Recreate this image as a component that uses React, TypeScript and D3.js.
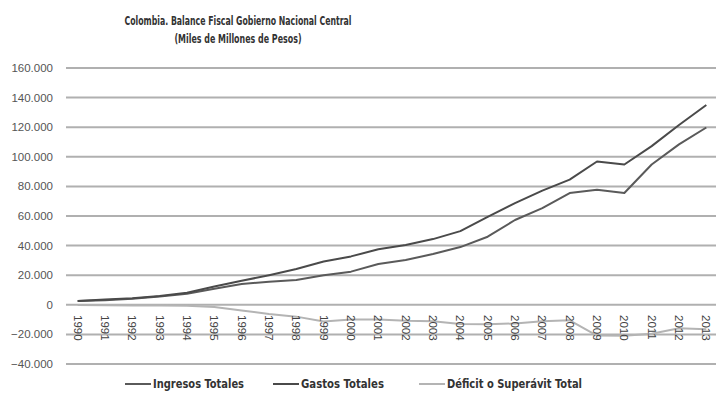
import React from "react";
import * as d3 from "d3";

const years = [
  "1990", "1991", "1992", "1993", "1994", "1995", "1996", "1997", "1998", "1999", "2000", "2001",
  "2002", "2003", "2004", "2005", "2006", "2007", "2008", "2009", "2010", "2011", "2012", "2013",
];

const ingresos = [
  2500, 3100, 4100, 5600, 7500, 10800, 14000, 15600, 16800, 20000, 22400, 27600,
  30300, 34300, 39000, 46000, 57300, 65300, 75500, 77700, 75500, 94800, 108400, 119800,
];

const gastos = [
  2600, 3500, 4500, 6000, 8200, 12300, 16200, 20000, 24200, 29200, 32700, 37500,
  40400, 44400, 49800, 59400, 68700, 77100, 84600, 96800, 94800, 107200, 121500, 135000,
];

const deficit = [
  -100, -300, -400, -400, -600, -1500, -3800, -6200, -8000, -11300, -10000, -9900,
  -10800, -11100, -13000, -13200, -12600, -11100, -10500, -20800, -20900, -19500, -15800, -16600,
];

const yTicks = [160000, 140000, 120000, 100000, 80000, 60000, 40000, 20000, 0, -20000, -40000];

const seriesNames = ["Ingresos Totales", "Gastos Totales", "Déficit o Superávit Total"];
const seriesColors = ["#5a5a5a", "#4a4a4a", "#b4b4b4"];

const W = 716;
const H = 395;
const FONT = "'DejaVu Sans Condensed', 'Liberation Sans', sans-serif";
const NUM_FONT = "'Liberation Sans', Arial, sans-serif";

const esLocale = d3.formatLocale({
  decimal: ",",
  thousands: ".",
  grouping: [3],
  currency: ["$", ""],
});
const fmt = esLocale.format(",d");

export default function App() {
  const x = d3.scalePoint<string>().domain(years).range([64, 720]).padding(0.5);
  const y = d3.scaleLinear().domain([-40000, 160000]).range([364, 68]);

  const line = d3
    .line<number>()
    .x((_, i) => x(years[i]) as number)
    .y((d) => y(d));

  const series = [ingresos, gastos, deficit];

  // legend layout: swatch start and text width for each entry
  const legendX = [125, 273, 419];
  const legendTextW = [91, 83, 135];

  return (
    <svg
      width={W}
      height={H}
      style={{ position: "absolute", left: 0, top: 0, background: "#fff" }}
      fontFamily={FONT}
    >
      <rect x={0} y={0} width={W} height={H} fill="#fff" />
      <text
        x={238}
        y={25}
        textAnchor="middle"
        fontSize={12}
        fontWeight="bold"
        fill="#333"
        textLength={227}
        lengthAdjust="spacingAndGlyphs"
      >
        Colombia. Balance Fiscal Gobierno Nacional Central
      </text>
      <text
        x={238}
        y={43}
        textAnchor="middle"
        fontSize={12}
        fontWeight="bold"
        fill="#333"
        textLength={127}
        lengthAdjust="spacingAndGlyphs"
      >
        (Miles de Millones de Pesos)
      </text>

      {yTicks.map((t) => (
        <g key={t}>
          <line x1={66} x2={716} y1={y(t)} y2={y(t)} stroke="#b0b0b0" strokeWidth={2} />
          <text
            x={53}
            y={y(t)}
            dy="0.35em"
            textAnchor="end"
            fontSize={11.5}
            fontFamily={NUM_FONT}
            fill="#555"
          >
            {fmt(t)}
          </text>
        </g>
      ))}

      {series.map((s, i) => (
        <path
          key={seriesNames[i]}
          d={line(s) as string}
          fill="none"
          stroke={seriesColors[i]}
          strokeWidth={2}
          strokeLinejoin="round"
        />
      ))}

      {years.map((yr) => (
        <text
          key={yr}
          transform={`translate(${x(yr)},${315}) rotate(90)`}
          dy="0.35em"
          fontSize={11.5}
          fontFamily={NUM_FONT}
          fill="#444"
        >
          {yr}
        </text>
      ))}

      {seriesNames.map((n, i) => (
        <g key={n} transform={`translate(${legendX[i]},384)`}>
          <line x1={0} x2={26} y1={0} y2={0} stroke={seriesColors[i]} strokeWidth={2} />
          <text
            x={28}
            y={0}
            dy="0.35em"
            fontSize={12}
            fontWeight="bold"
            fill="#333"
            textLength={legendTextW[i]}
            lengthAdjust="spacingAndGlyphs"
          >
            {n}
          </text>
        </g>
      ))}
    </svg>
  );
}
